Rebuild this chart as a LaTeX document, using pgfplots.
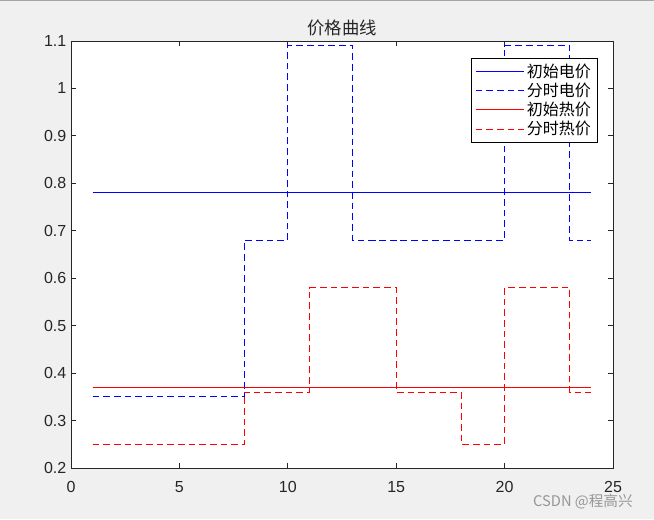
\documentclass[border=0pt]{standalone}
\usepackage{pgfplots}
\pgfplotsset{compat=1.18}
\usepackage{fontspec}
\setmainfont{Liberation Sans}
\newfontfamily\cjk{Noto Sans CJK SC}
\definecolor{figbg}{RGB}{240,240,240}
\definecolor{axcol}{RGB}{38,38,38}
\definecolor{wm}{RGB}{150,150,150}
\definecolor{pblue}{RGB}{0,0,255}
\definecolor{pred}{RGB}{255,0,0}

\begin{document}
\begin{tikzpicture}
\fill[figbg] (0,0) rectangle (490.5pt,389.25pt);
\draw[gray!70, line width=0.75pt] (0,389pt) -- (490.5pt,389pt);
\begin{axis}[
    at={(53.25pt,38.25pt)}, anchor=south west,
    scale only axis, width=406.5pt, height=320.25pt,
    xmin=0, xmax=25, ymin=0.2, ymax=1.1,
    xtick={0,5,10,15,20,25},
    ytick={0.2,0.3,0.4,0.5,0.6,0.7,0.8,0.9,1,1.1},
    tick align=inside, tick pos=both,
    major tick length=4pt,
    axis background/.style={fill=white},
    axis line style={axcol, line width=0.75pt},
    every tick/.style={axcol, line width=0.75pt},
    tick label style={font=\fontsize{12}{14}\selectfont, text=axcol},
    xticklabel style={yshift=-6.5pt},
    /pgf/number format/assume math mode=true,
    title={\cjk 价格曲线},
    title style={font=\fontsize{13}{15}\selectfont, text=axcol, at={(0.5,1)}, anchor=south, yshift=-2.75pt, inner sep=0pt},
    legend style={at={(0.9723,0.9602)}, anchor=north east, draw=black, line width=0.75pt,
        font=\cjk\fontsize{12}{14}\selectfont, cells={anchor=west}, fill=white, row sep=-1.2pt},
    legend cell align=left,
]
% 初始电价
\addplot[color=pblue, line width=0.75pt, const plot,
  legend image code/.code={\draw[pblue, line width=0.75pt] (0pt,0pt) -- (36pt,0pt);}]
  coordinates {(1,0.78) (24,0.78)};
\addlegendentry{初始电价}
% 分时电价
\addplot[color=pblue, line width=0.75pt, dash pattern=on 5pt off 3pt, const plot mark left,
  legend image code/.code={\draw[pblue, line width=0.75pt, dash pattern=on 5pt off 3pt] (0pt,0pt) -- (36pt,0pt);}]
  coordinates {
 (1,0.35) (2,0.35) (3,0.35) (4,0.35) (5,0.35) (6,0.35) (7,0.35)
 (8,0.68) (9,0.68) (10,1.09) (11,1.09) (12,1.09)
 (13,0.68) (14,0.68) (15,0.68) (16,0.68) (17,0.68) (18,0.68) (19,0.68)
 (20,1.09) (21,1.09) (22,1.09) (23,0.68) (24,0.68)};
\addlegendentry{分时电价}
% 初始热价
\addplot[color=pred, line width=0.75pt, const plot,
  legend image code/.code={\draw[pred, line width=0.75pt] (0pt,0pt) -- (36pt,0pt);}]
  coordinates {(1,0.37) (24,0.37)};
\addlegendentry{初始热价}
% 分时热价
\addplot[color=pred, line width=0.75pt, dash pattern=on 5pt off 3pt, const plot mark left,
  legend image code/.code={\draw[pred, line width=0.75pt, dash pattern=on 5pt off 3pt] (0pt,0pt) -- (36pt,0pt);}]
  coordinates {
 (1,0.25) (2,0.25) (3,0.25) (4,0.25) (5,0.25) (6,0.25) (7,0.25)
 (8,0.36) (9,0.36) (10,0.36) (11,0.58) (12,0.58) (13,0.58) (14,0.58)
 (15,0.36) (16,0.36) (17,0.36) (18,0.25) (19,0.25)
 (20,0.58) (21,0.58) (22,0.58) (23,0.36) (24,0.36)};
\addlegendentry{分时热价}
\end{axis}
\node[wm, font=\cjk\fontsize{11}{13}\selectfont] at (437.25pt,12.75pt) {CSDN @程高兴};
\pgfresetboundingbox
\path[use as bounding box] (0,0) rectangle (490.5pt,389.25pt);
\end{tikzpicture}
\end{document}
